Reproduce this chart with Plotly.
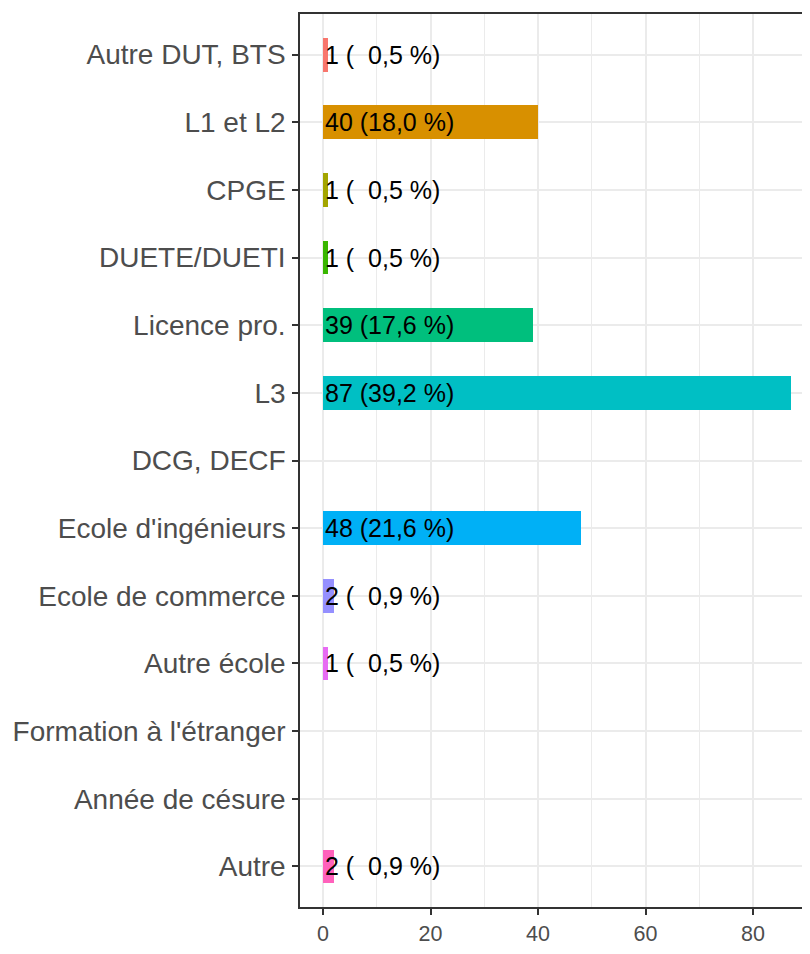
import plotly.graph_objects as go

categories = ["Autre DUT, BTS", "L1 et L2", "CPGE", "DUETE/DUETI", "Licence pro.", "L3",
              "DCG, DECF", "Ecole d'ingénieurs", "Ecole de commerce", "Autre école",
              "Formation à l'étranger", "Année de césure", "Autre"]
counts = [1, 40, 1, 1, 39, 87, None, 48, 2, 1, None, None, 2]
labels = ["1 (\u20070,5 %)", "40 (18,0 %)", "1 (\u20070,5 %)", "1 (\u20070,5 %)", "39 (17,6 %)",
          "87 (39,2 %)", None, "48 (21,6 %)", "2 (\u20070,9 %)", "1 (\u20070,5 %)", None, None,
          "2 (\u20070,9 %)"]
palette = ["#F8766D", "#D89000", "#A3A500", "#39B600", "#00BF7D", "#00BFC4",
           "#00B0F6", "#9590FF", "#E76BF3", "#FF62BC"]
x_ticks = [0, 20, 40, 60, 80]

# assign palette to non-empty categories in order
colors = []
k = 0
for c in counts:
    if c is None:
        colors.append("rgba(0,0,0,0)")
    else:
        colors.append(palette[k])
        k += 1

FONT = "Liberation Sans, Arial, Helvetica, sans-serif"

fig = go.Figure()
fig.add_trace(go.Bar(
    x=counts, y=categories, orientation="h", width=0.5,
    marker=dict(color=colors, line=dict(width=0)),
    hoverinfo="x+y", showlegend=False,
))

annotations = []
for cat, c, lab in zip(categories, counts, labels):
    if lab is None:
        continue
    annotations.append(dict(
        x=0, y=cat, xref="x", yref="y", text=lab, showarrow=False,
        xanchor="left", yanchor="middle", xshift=0,
        font=dict(family=FONT, size=25, color="#000000"),
    ))

# page body has an 8px default margin: figure sized to end at the window edge
fig.update_layout(
    width=802, height=946,
    margin=dict(l=292, r=0, t=6, b=47),
    paper_bgcolor="white", plot_bgcolor="white",
    font=dict(family=FONT),
    bargap=0,
    annotations=annotations,
    xaxis=dict(
        range=[-4.28, 90.6], tickvals=x_ticks, ticktext=[str(v) for v in x_ticks],
        showgrid=True, gridcolor="#EBEBEB", gridwidth=2,
        minor=dict(dtick=10, tick0=0, showgrid=True, gridcolor="#EBEBEB", gridwidth=1),
        zeroline=False, automargin=False,
        showline=True, mirror=True, linecolor="#333333", linewidth=1.5,
        ticks="outside", ticklen=6, tickwidth=1.5, tickcolor="#333333",
        tickfont=dict(family=FONT, size=21.5, color="#4D4D4D"),
        fixedrange=True,
    ),
    yaxis=dict(
        categoryorder="array", categoryarray=categories,
        range=[12.6, -0.6],
        showgrid=True, gridcolor="#EBEBEB", gridwidth=2,
        zeroline=False, automargin=False,
        showline=True, mirror=False, linecolor="#333333", linewidth=1.5,
        ticks="outside", ticklen=6, tickwidth=1.5, tickcolor="#333333",
        ticklabelstandoff=1,
        tickfont=dict(family=FONT, size=28, color="#4D4D4D"),
        fixedrange=True,
    ),
)

fig.write_html("out.html")
